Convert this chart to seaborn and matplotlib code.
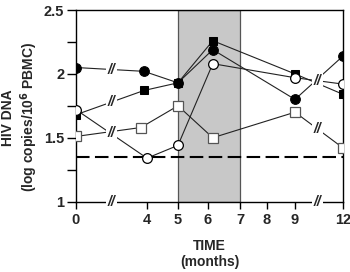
import numpy as np
import pandas as pd
import matplotlib
matplotlib.use("Agg")
import matplotlib.pyplot as plt
import seaborn as sns

# ---- data ----
tick_months = [0, 4, 5, 6, 7, 8, 9, 12]
tick_labels = ["0", "4", "5", "6", "7", "8", "9", "12"]

x_fc = [0, 3.83, 5, 6.15, 9, 12]          # filled circle
y_fc = [2.05, 2.02, 1.93, 2.19, 1.80, 2.14]
x_fs = [0, 3.83, 5, 6.15, 9, 12]          # filled square
y_fs = [1.68, 1.87, 1.93, 2.26, 2.00, 1.84]
x_oc = [0, 4.0, 5, 6.15, 9, 12]           # open circle
y_oc = [1.72, 1.34, 1.44, 2.08, 1.97, 1.92]
x_os = [0, 3.66, 5, 6.15, 9, 12]          # open square
y_os = [1.51, 1.58, 1.75, 1.50, 1.70, 1.42]

threshold = 1.35
shade = (5, 7)
break_x = [2.0, 10.4]

# ---- broken (piecewise-linear) x scale ----
knots_m = [-100, 0, 4, 5, 6, 7, 8, 9, 12, 100]
knots_p = [-1775, 0, 71, 102, 132, 164, 191, 219, 267, 267 + 88 * 16]

def fwd(x):
    return np.interp(x, knots_m, knots_p)

def inv(p):
    return np.interp(p, knots_p, knots_m)

sns.set_style("ticks")
plt.rcParams['font.family'] = ['Liberation Sans', 'DejaVu Sans']
plt.rcParams['font.weight'] = 'bold'

fig = plt.figure(figsize=(3.5, 2.72), dpi=100)
ax = fig.add_axes([0.217, 0.259, 0.763, 0.704])
ax.set_xscale('function', functions=(fwd, inv))

ax.axvspan(shade[0], shade[1], facecolor="#c8c8c8", edgecolor="#555555", lw=0.9, zorder=0)
ax.axhline(threshold, color="black", lw=1.5, dashes=(6.5, 2.6), zorder=1)

line_kw = dict(color="#222222", linewidth=0.8, zorder=3, legend=False)
sns.lineplot(x=x_fc, y=y_fc, ax=ax, marker="o", markersize=7,
             markerfacecolor="black", markeredgecolor="black", **line_kw)
sns.lineplot(x=x_fs, y=y_fs, ax=ax, marker="s", markersize=6,
             markerfacecolor="black", markeredgecolor="black", **line_kw)
sns.lineplot(x=x_oc, y=y_oc, ax=ax, marker="o", markersize=7,
             markerfacecolor="white", markeredgecolor="black", markeredgewidth=0.9, **line_kw)
sns.lineplot(x=x_os, y=y_os, ax=ax, marker="s", markersize=6.5,
             markerfacecolor="white", markeredgecolor="#555555", markeredgewidth=0.9, **line_kw)

# break marks on lines (positions interpolated from series)
def brk(x, y):
    ax.text(x, y, "//", ha="center", va="center", fontsize=10, fontstyle="italic",
            fontweight="bold", zorder=4,
            bbox=dict(facecolor="white", edgecolor="none", pad=1.2))

for bx in break_x:
    ys = [float(np.interp(bx, xs, ysr)) for xs, ysr in
          [(x_fc, y_fc), (x_fs, y_fs), (x_oc, y_oc), (x_os, y_os)]]
    if bx < 5:
        brk(bx, ys[0]); brk(bx, ys[1]); brk(bx, (ys[2] + ys[3]) / 2)
    else:
        brk(bx, (ys[0] + ys[1] + ys[2]) / 3); brk(bx, ys[3])
    brk(bx, 1.0)

ax.set_xlim(0, 12)
ax.set_ylim(1, 2.5)
ax.set_xticks(tick_months)
ax.set_xticklabels(tick_labels)
ax.set_yticks([1, 1.5, 2, 2.5])
ax.set_yticklabels(["1", "1.5", "2", "2.5"])
ax.set_yticks([1.25, 1.75, 2.25], minor=True)
ax.xaxis.set_minor_locator(matplotlib.ticker.NullLocator())

for s in ax.spines.values():
    s.set_linewidth(1.0)
    s.set_color("black")
    s.set_visible(True)
ax.spines['bottom'].set_zorder(2)

ax.tick_params(axis='y', which='both', length=6.5, width=1.0, direction='out',
               labelsize=10.5, pad=2, color="black")
ax.tick_params(axis='x', which='both', length=5, width=1.0, direction='out',
               labelsize=10.5, pad=3, color="black")
for t in ax.get_xticklabels() + ax.get_yticklabels():
    t.set_fontweight("bold")

ax.set_xlabel("TIME\n(months)", fontsize=10, fontweight="bold", labelpad=9, linespacing=1.2)
ax.set_ylabel("HIV DNA\n(log copies/10$^{\\mathbf{6}}$ PBMC)", fontsize=10,
              fontweight="bold", linespacing=1.2)
ax.yaxis.set_label_coords(-0.135, 0.44)

fig.savefig("out.png", dpi=100)
